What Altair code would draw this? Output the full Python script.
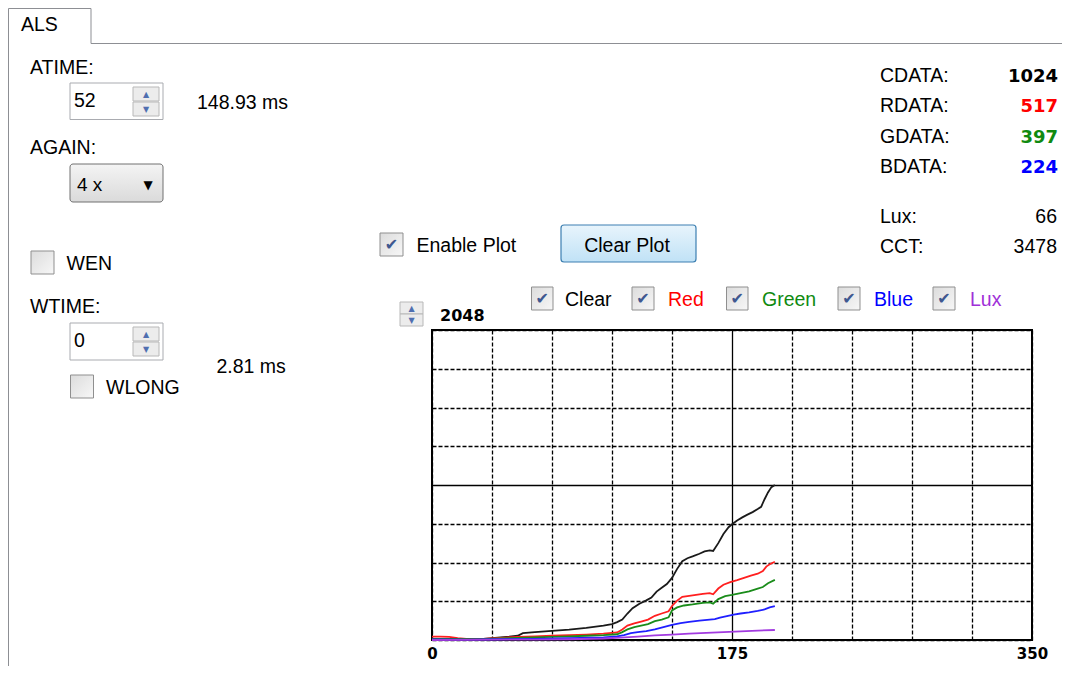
import altair as alt
import pandas as pd

# ---------------- data ----------------
series_names = ["Clear", "Red", "Green", "Blue", "Lux"]
series_colors = ["#1a1a1a", "#ff1f1f", "#1a8c1a", "#1f1fff", "#a23be0"]

clear_x = [0, 10, 20, 30, 40, 45, 50, 53, 60, 70, 80, 90, 100, 105, 108, 111, 114, 117, 121, 125,
           128, 131, 134, 137, 140, 143, 146, 149, 152, 156, 159, 162, 164, 167, 170, 173, 175, 178,
           181, 184, 187, 190, 192, 194, 196, 198, 200]
clear_y = [6, 5, 4, 8, 18, 22, 28, 45, 52, 60, 68, 80, 95, 105, 118, 135, 175, 210, 240, 262,
           280, 320, 345, 370, 410, 470, 520, 540, 552, 570, 585, 592, 588, 640, 700, 745, 765, 790,
           810, 828, 845, 865, 880, 930, 975, 1010, 1024]

red_x = [0, 5, 10, 15, 20, 30, 40, 50, 60, 70, 80, 90, 100, 108, 111, 114, 118, 122, 126, 130,
         134, 138, 140, 143, 146, 150, 154, 158, 162, 164, 167, 170, 174, 178, 182, 186, 190, 193,
         195, 197, 200]
red_y = [22, 22, 20, 12, 8, 8, 14, 20, 24, 28, 32, 36, 42, 50, 70, 95, 110, 122, 135, 160,
         175, 190, 225, 260, 285, 292, 298, 305, 310, 302, 340, 365, 382, 395, 410, 425, 438, 455,
         485, 500, 517]

green_x = [0, 10, 20, 30, 40, 50, 60, 70, 80, 90, 100, 108, 111, 114, 118, 122, 126, 130, 134, 138,
           140, 143, 147, 152, 158, 162, 164, 167, 171, 175, 180, 185, 190, 193, 196, 200]
green_y = [8, 8, 6, 6, 10, 14, 17, 20, 24, 28, 32, 38, 52, 70, 85, 95, 105, 125, 135, 150,
           195, 215, 228, 235, 245, 248, 240, 270, 290, 298, 310, 322, 340, 350, 375, 397]

blue_x = [0, 20, 40, 60, 80, 100, 108, 112, 116, 120, 125, 130, 135, 140, 145, 150, 156, 162, 165,
          168, 172, 176, 180, 185, 190, 194, 197, 200]
blue_y = [4, 3, 5, 8, 12, 18, 24, 32, 45, 52, 58, 70, 85, 100, 112, 120, 128, 135, 138,
          148, 158, 168, 175, 182, 192, 202, 215, 224]

lux_x = [0, 20, 40, 60, 80, 100, 110, 120, 130, 140, 150, 160, 170, 180, 190, 200]
lux_y = [0, 1, 2, 3, 5, 10, 16, 22, 30, 36, 42, 47, 52, 57, 62, 66]

x_ticks = list(range(0, 351, 35))
y_ticks = list(range(0, 2049, 256))

rows = []
for name, xs, ys in [("Clear", clear_x, clear_y), ("Red", red_x, red_y), ("Green", green_x, green_y),
                     ("Blue", blue_x, blue_y), ("Lux", lux_x, lux_y)]:
    for i, (a, b) in enumerate(zip(xs, ys)):
        rows.append({"series": name, "sample": a, "value": b, "i": i})
df = pd.DataFrame(rows)

# ---------------- plot ----------------
dash_x = {"condition": {"test": "datum.value === 175", "value": [1, 0]}, "value": [4, 2]}
dash_y = {"condition": {"test": "datum.value === 1024", "value": [1, 0]}, "value": [4, 2]}

lines = alt.Chart(df).mark_line(strokeWidth=1.8).encode(
    x=alt.X("sample:Q", scale=alt.Scale(domain=[0, 350], nice=False, zero=False),
            axis=alt.Axis(values=x_ticks, grid=True, gridColor="black", gridOpacity=1, gridWidth=1.3,
                          gridDash=dash_x, labelExpr="datum.value % 175 === 0 ? datum.label : ''",
                          labelFont="DejaVu Sans", labelFontWeight="bold", labelFontSize=15,
                          labelColor="black", labelPadding=6, ticks=False, tickSize=0, domain=False,
                          title=None, labelAlign="center", labelFlush=False, labelOverlap=False)),
    y=alt.Y("value:Q", scale=alt.Scale(domain=[0, 2048], nice=False),
            axis=alt.Axis(values=y_ticks, grid=True, gridColor="black", gridOpacity=1, gridWidth=1.3,
                          gridDash=dash_y, labels=False, ticks=False, tickSize=0, domain=False, title=None)),
    color=alt.Color("series:N", scale=alt.Scale(domain=series_names, range=series_colors), legend=None),
    detail="series:N",
    order="i:Q",
)

# ---------------- GUI decorations (screen layout) ----------------
PX0, PY0 = 432, 330  # screen position of the plot origin


def sx(v):
    return v - PX0


def sy(v):
    return v - PY0


def text_layer(items, font, size, weight="normal", align="left", baseline="alphabetic"):
    d = pd.DataFrame([{"t": t, "px": sx(X), "py": sy(Y), "c": c} for t, X, Y, c in items])
    return alt.Chart(d).mark_text(font=font, fontSize=size, fontWeight=weight, align=align,
                                  baseline=baseline).encode(
        x=alt.X("px:Q", scale=None, axis=None),
        y=alt.Y("py:Q", scale=None, axis=None),
        text="t:N",
        color=alt.Color("c:N", scale=None, legend=None),
    )


def rect_layer(items, fill, stroke, sw=1.0, radius=0):
    d = pd.DataFrame([{"x1": sx(a), "y1": sy(b), "x2": sx(c), "y2": sy(e)} for a, b, c, e in items])
    return alt.Chart(d).mark_rect(fill=fill, stroke=stroke, strokeWidth=sw, cornerRadius=radius).encode(
        x=alt.X("x1:Q", scale=None, axis=None), x2="x2:Q",
        y=alt.Y("y1:Q", scale=None, axis=None), y2="y2:Q",
    )


def rule_layer(items, color, sw=1.0):
    d = pd.DataFrame([{"x1": sx(a), "y1": sy(b), "x2": sx(c), "y2": sy(e)} for a, b, c, e in items])
    return alt.Chart(d).mark_rule(color=color, strokeWidth=sw).encode(
        x=alt.X("x1:Q", scale=None, axis=None), x2="x2:Q",
        y=alt.Y("y1:Q", scale=None, axis=None), y2="y2:Q",
    )


SANS = "Liberation Sans"
BOLD = "DejaVu Sans"
RED, GREEN, BLUE, PURPLE = "#ff0000", "#108a10", "#0000ff", "#a030d8"
CHECK = "#3f5890"

tab = rule_layer([(8.5, 8.5, 8.5, 666), (8.5, 8.5, 91, 8.5), (91, 8.5, 91, 43.5),
                  (91, 43.5, 1062, 43.5)], "#8d8f94", 1)

boxes = rect_layer([(70, 83, 163, 119.5), (70, 323, 163, 360)], "white", "#a9abb0")
spin_btns = rect_layer([(133, 87, 159, 101), (133, 102, 159, 116), (133, 327, 159, 341),
                        (133, 342, 159, 356), (400, 302, 423, 314), (400, 314, 423, 326)],
                       "#ececec", "#b8b8b8")
check_fill = alt.Gradient(gradient="linear", x1=0, x2=1, y1=0, y2=1,
                          stops=[alt.GradientStop(color="#dcdcdc", offset=0),
                                 alt.GradientStop(color="#f7f7f7", offset=1)])
checks_off = rect_layer([(31, 251, 54, 274), (70.5, 375, 93.5, 398)], check_fill, "#8f8f8f")
checks_on = rect_layer([(380, 233, 403, 256), (531.5, 287, 553, 310), (632, 287, 654, 310),
                        (726.5, 287, 748, 310), (838, 287, 860, 310), (933, 287, 955, 310)],
                       check_fill, "#8f8f8f")
dropdown = rect_layer([(70, 164, 163, 202)],
                      alt.Gradient(gradient="linear", x1=0, x2=0, y1=0, y2=1,
                                   stops=[alt.GradientStop(color="#f4f4f4", offset=0),
                                          alt.GradientStop(color="#dadada", offset=1)]),
                      "#707070", 1, 3)
button = rect_layer([(561, 225, 696, 262)],
                    alt.Gradient(gradient="linear", x1=0, x2=0, y1=0, y2=1,
                                 stops=[alt.GradientStop(color="#e8f4fc", offset=0),
                                        alt.GradientStop(color="#c0e2f6", offset=1)]),
                    "#3c7fb1", 1.2, 3)

labels = text_layer([
    ("ALS", 21, 31, "black"),
    ("ATIME:", 30, 73.5, "black"),
    ("52", 74, 106.5, "black"),
    ("148.93 ms", 197, 108.5, "black"),
    ("AGAIN:", 30, 154, "black"),
    ("WEN", 66.5, 270, "black"),
    ("WTIME:", 30, 313, "black"),
    ("0", 74, 346.5, "black"),
    ("2.81 ms", 216.5, 373, "black"),
    ("WLONG", 106, 394, "black"),
    ("CDATA:", 880, 81.7, "black"),
    ("RDATA:", 880, 111.7, "black"),
    ("GDATA:", 880, 142.7, "black"),
    ("BDATA:", 880, 172.7, "black"),
    ("Lux:", 880, 222.7, "black"),
    ("CCT:", 880, 253.3, "black"),
    ("Enable Plot", 416.5, 252.3, "black"),
    ("Clear", 565, 305.5, "black"),
    ("Red", 668, 305.5, RED),
    ("Green", 762, 305.5, GREEN),
    ("Blue", 874, 305.5, BLUE),
    ("Lux", 970, 305.5, PURPLE),
], SANS, 19.5)

again_val = text_layer([("4 x", 77, 191, "black")], SANS, 19)
right_vals = text_layer([("66", 1057, 222.7, "black"), ("3478", 1057, 253.3, "black")], SANS, 19.5,
                        align="right")
btn_text = text_layer([("Clear Plot", 627, 252, "black")], SANS, 19.5, align="center")
data_vals = text_layer([("1024", 1058, 81.7, "black"), ("517", 1058, 111.7, RED),
                        ("397", 1058, 142.7, GREEN), ("224", 1058, 172.7, BLUE)],
                       BOLD, 18, weight="bold", align="right")
top_val = text_layer([("2048", 440, 320.5, "black")], BOLD, 16, weight="bold")

check_marks = text_layer([("✔", 391.5, 245, CHECK), ("✔", 542.3, 299, CHECK),
                          ("✔", 643, 299, CHECK), ("✔", 737.3, 299, CHECK),
                          ("✔", 849, 299, CHECK), ("✔", 944, 299, CHECK)],
                         "DejaVu Sans", 16, align="center", baseline="middle")
arrows = text_layer([("▲", 146, 94.5, "#4f6fb0"), ("▼", 146, 109.5, "#4f6fb0"),
                     ("▲", 146, 334.5, "#4f6fb0"), ("▼", 146, 349.5, "#4f6fb0"),
                     ("▲", 411.5, 308.5, "#4f6fb0"), ("▼", 411.5, 320.5, "#4f6fb0")],
                    "DejaVu Sans", 8, align="center", baseline="middle")
drop_arrow = text_layer([("▼", 148, 184.5, "black")], "DejaVu Sans", 12, align="center",
                        baseline="middle")

chart = alt.layer(
    lines, tab, boxes, spin_btns, checks_off, checks_on, dropdown, button,
    labels, again_val, right_vals, btn_text, data_vals, top_val, check_marks, arrows, drop_arrow,
).resolve_scale(x="independent", y="independent").properties(
    width=600, height=310, padding=0, background="white"
).configure_view(stroke="black", strokeWidth=2)

chart.save("out.html", embed_options={"renderer": "svg", "actions": False})
